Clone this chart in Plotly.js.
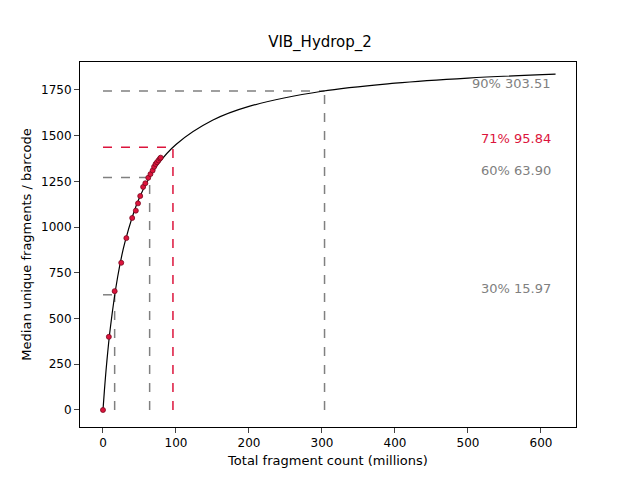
<!DOCTYPE html>
<html><head><script src="https://cdn.plot.ly/plotly-3.0.1.min.js"></script></head>
<body style="margin:0"><div id="c" style="width:640px;height:480px"></div>
<script>
const curveX=[0,2,5,10,20,30,50,75,100,150,200,300,400,500,620];
const curveY=[0,110,253,447,726,917,1162,1341,1452,1584,1660,1743,1787,1815,1837];
const ptX=[0,8,16,25,32,40,45,48,51,55,58,62,65,68,70,72,74,76,78,79];
const ptY=[0,400,650,805,940,1050,1090,1130,1170,1220,1240,1270,1290,1310,1330,1345,1355,1365,1375,1380];
const satPct=["30%","60%","71%","90%"];
const satX=[15.97,63.90,95.84,303.51];
const satY=[630,1272,1437,1745];
const labelY=[667,1312,1482,1788];
const satCol=["#808080","#808080","#dc143c","#808080"];
const traces=[];
const anns=[];
for(let i=0;i<satX.length;i++){
  traces.push({x:[satX[i],satX[i]],y:[0,satY[i]],mode:'lines',line:{color:satCol[i],dash:'dash',width:1.5},hoverinfo:'skip'});
  traces.push({x:[0,satX[i]],y:[satY[i],satY[i]],mode:'lines',line:{color:satCol[i],dash:'dash',width:1.5},hoverinfo:'skip'});
  anns.push({x:616,y:labelY[i],xanchor:'right',yanchor:'middle',showarrow:false,text:satPct[i]+' '+satX[i].toFixed(2),font:{color:satCol[i],size:13}});
}
traces.push({x:curveX,y:curveY,mode:'lines',line:{color:'black',width:1.2,shape:'spline'}});
traces.push({x:ptX,y:ptY,mode:'markers',marker:{color:'#dc143c',size:5,line:{color:'#7a0a20',width:0.8}}});
const ax={showgrid:false,zeroline:false,ticks:'outside',showline:true,mirror:true,linecolor:'black',tickfont:{size:12}};
Plotly.newPlot('c',traces,{
  width:640,height:480,showlegend:false,
  font:{family:'DejaVu Sans',color:'black'},
  paper_bgcolor:'white',plot_bgcolor:'white',
  margin:{l:80,r:64,t:62,b:53},
  title:{text:'VIB_Hydrop_2',x:0.5,xanchor:'center',y:0.925,font:{size:15}},
  xaxis:Object.assign({},ax,{range:[-31.5,648],tickvals:[0,100,200,300,400,500,600],title:{text:'Total fragment count (millions)',font:{size:13},standoff:6}}),
  yaxis:Object.assign({},ax,{range:[-93,1903],tickvals:[0,250,500,750,1000,1250,1500,1750],title:{text:'Median unique fragments / barcode',font:{size:13},standoff:6}}),
  annotations:anns
},{displayModeBar:false});
</script></body></html>
